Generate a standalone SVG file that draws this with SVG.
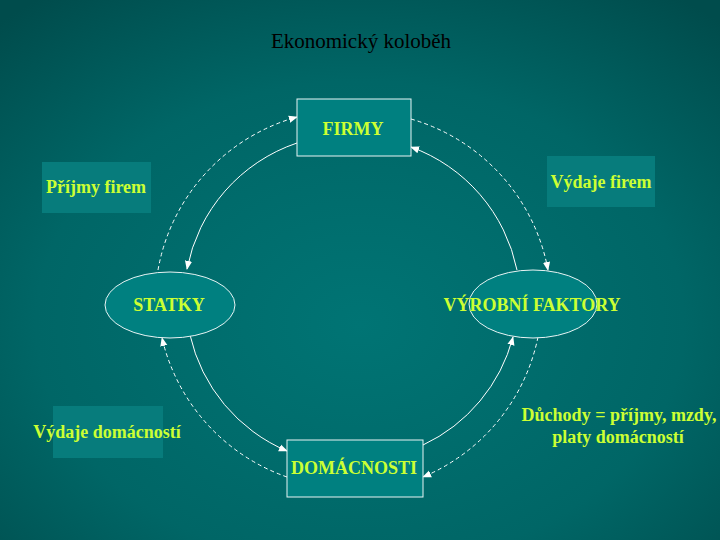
<svg xmlns="http://www.w3.org/2000/svg" width="720" height="540" viewBox="0 0 720 540">
<defs>
<radialGradient id="bg" cx="0.5" cy="0.6" r="0.75">
<stop offset="0" stop-color="#007474"/>
<stop offset="0.6" stop-color="#006666"/>
<stop offset="1" stop-color="#004c4c"/>
</radialGradient>
<marker id="ah" viewBox="0 0 10 10" refX="9" refY="5" markerWidth="9" markerHeight="9" markerUnits="userSpaceOnUse" orient="auto">
<path d="M0,1 L10,5 L0,9 z" fill="#ffffff"/>
</marker>
<style>
.lbl{font-family:"Liberation Serif","Times New Roman",serif;font-weight:bold;font-size:18px;fill:#ccff33;text-anchor:middle}
.box{fill:#008080;stroke:#e8f4f4;stroke-width:1}
.pl{fill:#077c7c;stroke:none}
.ell{fill:#008080;stroke:#e8f4f4;stroke-width:1}
.c{fill:none;stroke:#ffffff;stroke-width:1;marker-end:url(#ah)}
.d{stroke-dasharray:4,3}
</style>
</defs>
<rect width="720" height="540" fill="url(#bg)"/>
<text x="361" y="48" font-family="Liberation Serif, Times New Roman, serif" font-size="21" text-anchor="middle" fill="#000000">Ekonomický koloběh</text>

<g id="connectors">
<path class="c d" d="M158,270 A194,194 0 0 1 297,117"/>
<path class="c" d="M297,143 A166,166 0 0 0 187,269"/>
<path class="c d" d="M411,119 A194,194 0 0 1 548,270"/>
<path class="c" d="M517,270 A166,166 0 0 0 411,147"/>
<path class="c" d="M190,335 A166,166 0 0 0 287,451"/>
<path class="c d" d="M287,477 A194,194 0 0 1 162,338"/>
<path class="c" d="M423,445 A166,166 0 0 0 513,337"/>
<path class="c d" d="M538,337 A194,194 0 0 1 423,477"/>
</g>

<g id="firmy">
<rect class="box" x="297" y="99" width="114" height="57"/>
<text class="lbl" x="353" y="135">FIRMY</text>
</g>
<g id="prijmy-firem">
<rect class="pl" x="42" y="162" width="109" height="51"/>
<text class="lbl" x="96" y="193">Příjmy firem</text>
</g>
<g id="vydaje-firem">
<rect class="pl" x="547" y="156" width="108" height="51"/>
<text class="lbl" x="601" y="188">Výdaje firem</text>
</g>
<g id="statky">
<ellipse class="ell" cx="170" cy="305" rx="65" ry="33"/>
<text class="lbl" x="169" y="311">STATKY</text>
</g>
<g id="vyrobni-faktory">
<ellipse class="ell" cx="533" cy="304" rx="64" ry="34"/>
<text class="lbl" x="532" y="311">VÝROBNÍ FAKTORY</text>
</g>
<g id="vydaje-domacnosti">
<rect class="pl" x="53" y="406" width="110" height="52"/>
<text class="lbl" x="107" y="438">Výdaje domácností</text>
</g>
<g id="duchody">
<text class="lbl" x="619" y="421">Důchody = příjmy, mzdy,</text>
<text class="lbl" x="618" y="443">platy domácností</text>
</g>
<g id="domacnosti">
<rect class="box" x="287" y="440" width="136" height="57"/>
<text class="lbl" x="354" y="474">DOMÁCNOSTI</text>
</g>
</svg>
